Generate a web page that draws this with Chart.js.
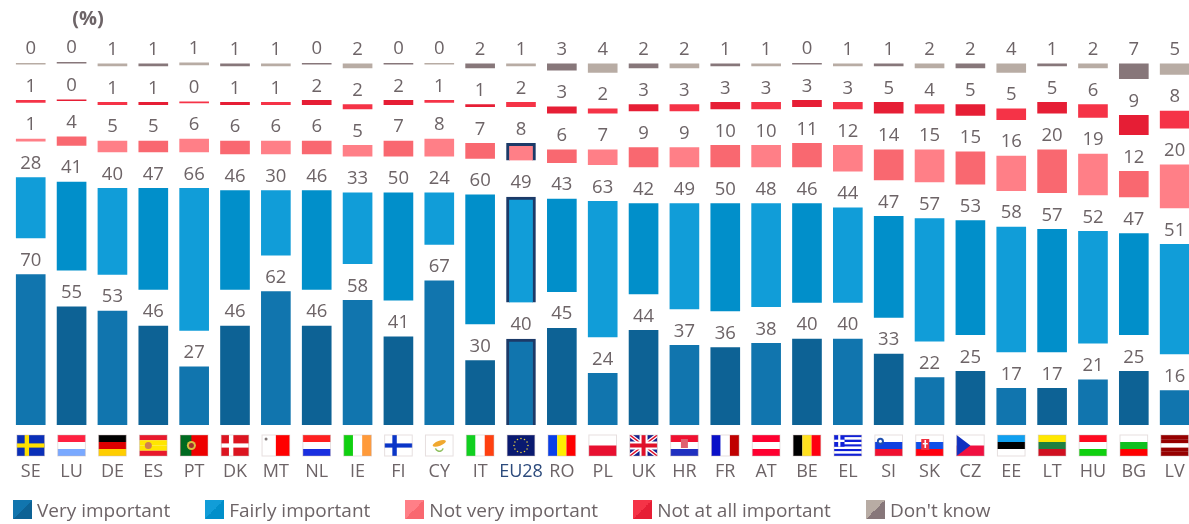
<!DOCTYPE html>
<html>
<head>
<meta charset="utf-8">
<title>Importance (%)</title>
<script src="https://cdn.jsdelivr.net/npm/chart.js@4"></script>
<style>
    html, body { margin: 0; padding: 0; background: #fff; overflow: hidden; width: 1189px; height: 524px; }
    #wrap { position: absolute; left: 0; top: 0; width: 1200px; height: 524px; }
    #legend { position: absolute; left: 13px; top: 500px; display: flex; font: 19px "Open Sans", sans-serif; color: #6d6467; white-space: nowrap; }
    .item { display: flex; align-items: center; height: 19px; margin-right: 35px; }
    .swatch { width: 19px; height: 19px; margin-right: 5px; }
</style>
</head>
<body>
<div id="wrap"><canvas id="chart" width="1200" height="524"></canvas></div>
<div id="legend"></div>
<script>
var countries = ['SE', 'LU', 'DE', 'ES', 'PT', 'DK', 'MT', 'NL', 'IE', 'FI', 'CY', 'IT', 'EU28', 'RO', 'PL', 'UK', 'HR', 'FR', 'AT', 'BE', 'EL', 'SI', 'SK', 'CZ', 'EE', 'LT', 'HU', 'BG', 'LV'];
var veryImportant = [70, 55, 53, 46, 27, 46, 62, 46, 58, 41, 67, 30, 40, 45, 24, 44, 37, 36, 38, 40, 40, 33, 22, 25, 17, 17, 21, 25, 16];
var fairlyImportant = [28, 41, 40, 47, 66, 46, 30, 46, 33, 50, 24, 60, 49, 43, 63, 42, 49, 50, 48, 46, 44, 47, 57, 53, 58, 57, 52, 47, 51];
var notVeryImportant = [1, 4, 5, 5, 6, 6, 6, 6, 5, 7, 8, 7, 8, 6, 7, 9, 9, 10, 10, 11, 12, 14, 15, 15, 16, 20, 19, 12, 20];
var notAtAllImportant = [1, 0, 1, 1, 0, 1, 1, 2, 2, 2, 1, 1, 2, 3, 2, 3, 3, 3, 3, 3, 3, 5, 4, 5, 5, 5, 6, 9, 8];
var dontKnow = [0, 0, 1, 1, 1, 1, 1, 0, 2, 0, 0, 2, 1, 3, 4, 2, 2, 1, 1, 0, 1, 1, 2, 2, 4, 1, 2, 7, 5];

var seriesNames = ['Very important', 'Fairly important', 'Not very important', 'Not at all important', "Don't know"];
var seriesValues = [veryImportant, fairlyImportant, notVeryImportant, notAtAllImportant, dontKnow];
var lightColors = ['#1175ae', '#119dd8', '#ff7f87', '#f53347', '#b8aca4'];
var darkColors = ['#0d6295', '#018fca', '#f96870', '#e61e35', '#87777a'];

var euIndex = countries.indexOf('EU28');
var euBorder = '#1c3a68';
var textColor = '#6d6467';
var fontName = '"Open Sans", sans-serif';
var segmentGap = 17; // empty room left between segments for the labels, in axis units

// stacked segments with an invisible spacer between each of them
var datasets = [];
seriesNames.forEach(function (name, s) {
    datasets.push({
        label: name,
        data: seriesValues[s],
        minBarLength: 1,
        backgroundColor: function (c) { return c.dataIndex % 2 ? darkColors[s] : lightColors[s]; },
        borderColor: euBorder,
        borderWidth: function (c) { return c.dataIndex === euIndex && s < 3 ? 3 : 0; }
    });
    if (s < seriesNames.length - 1) {
        datasets.push({
            label: 'spacer',
            spacer: true,
            data: countries.map(function () { return segmentGap; }),
            backgroundColor: 'transparent',
            borderWidth: 0
        });
    }
});

function hStripes(ctx, f, colors) {
    var h = f.h / colors.length;
    colors.forEach(function (col, i) {
        ctx.fillStyle = col;
        ctx.fillRect(f.x, f.y + i * h, f.w, h);
    });
}

function vStripes(ctx, f, colors) {
    var w = f.w / colors.length;
    colors.forEach(function (col, i) {
        ctx.fillStyle = col;
        ctx.fillRect(f.x + i * w, f.y, w, f.h);
    });
}

function nordicCross(ctx, f, bg, cross) {
    ctx.fillStyle = bg;
    ctx.fillRect(f.x, f.y, f.w, f.h);
    ctx.fillStyle = cross;
    ctx.fillRect(f.x + f.w * 0.28, f.y, f.w * 0.16, f.h);
    ctx.fillRect(f.x, f.y + f.h * 0.4, f.w, f.h * 0.2);
}

function dot(ctx, x, y, r, col) {
    ctx.fillStyle = col;
    ctx.beginPath();
    ctx.arc(x, y, r, 0, Math.PI * 2);
    ctx.fill();
}

var flags = {
    SE: function (ctx, f) { nordicCross(ctx, f, '#0a2fb8', '#ffe000'); },
    LU: function (ctx, f) { hStripes(ctx, f, ['#ff2040', '#ffffff', '#7aa9ff']); },
    DE: function (ctx, f) { hStripes(ctx, f, ['#000000', '#dd0000', '#ffce00']); },
    ES: function (ctx, f) {
        hStripes(ctx, f, ['#e8192c', '#ffe600', '#ffe600', '#e8192c']);
        dot(ctx, f.x + f.w * 0.32, f.y + f.h / 2, 3.5, '#d08050');
    },
    PT: function (ctx, f) {
        ctx.fillStyle = '#ee0000';
        ctx.fillRect(f.x, f.y, f.w, f.h);
        ctx.fillStyle = '#006a20';
        ctx.fillRect(f.x, f.y, f.w * 0.4, f.h);
        dot(ctx, f.x + f.w * 0.4, f.y + f.h / 2, 4.5, '#d8c040');
        dot(ctx, f.x + f.w * 0.4, f.y + f.h / 2, 2.5, '#a03030');
    },
    DK: function (ctx, f) { nordicCross(ctx, f, '#dc1420', '#ffffff'); },
    MT: function (ctx, f) {
        vStripes(ctx, f, ['#ffffff', '#ff0000']);
        dot(ctx, f.x + 4, f.y + 4, 1.5, '#807878');
    },
    NL: function (ctx, f) { hStripes(ctx, f, ['#ff2020', '#ffffff', '#1a2fe0']); },
    IE: function (ctx, f) { vStripes(ctx, f, ['#10d010', '#ffffff', '#ff9a3a']); },
    FI: function (ctx, f) { nordicCross(ctx, f, '#ffffff', '#0a35c8'); },
    CY: function (ctx, f) {
        ctx.fillStyle = '#ffffff';
        ctx.fillRect(f.x, f.y, f.w, f.h);
        ctx.fillStyle = '#f0a830';
        ctx.beginPath();
        ctx.ellipse(f.x + f.w * 0.5, f.y + f.h * 0.4, 7, 2.5, -0.35, 0, Math.PI * 2);
        ctx.fill();
        ctx.strokeStyle = '#90c060';
        ctx.lineWidth = 1.5;
        ctx.beginPath();
        ctx.arc(f.x + f.w * 0.5, f.y + f.h * 0.58, 4, 0.3, Math.PI - 0.3);
        ctx.stroke();
    },
    IT: function (ctx, f) { vStripes(ctx, f, ['#10d020', '#ffffff', '#ff4010']); },
    EU28: function (ctx, f) {
        ctx.fillStyle = '#0a1a70';
        ctx.fillRect(f.x, f.y, f.w, f.h);
        for (var i = 0; i < 12; i++) {
            var a = i * Math.PI / 6;
            dot(ctx, f.x + f.w / 2 + Math.cos(a) * 7, f.y + f.h / 2 + Math.sin(a) * 7, 0.8, '#e8d040');
        }
    },
    RO: function (ctx, f) { vStripes(ctx, f, ['#0a40e8', '#ffee00', '#ff0000']); },
    PL: function (ctx, f) { hStripes(ctx, f, ['#ffffff', '#e81030']); },
    UK: function (ctx, f) {
        ctx.save();
        ctx.beginPath();
        ctx.rect(f.x, f.y, f.w, f.h);
        ctx.clip();
        ctx.fillStyle = '#14208c';
        ctx.fillRect(f.x, f.y, f.w, f.h);
        ctx.lineWidth = 4;
        ctx.strokeStyle = '#ffffff';
        ctx.beginPath();
        ctx.moveTo(f.x, f.y);
        ctx.lineTo(f.x + f.w, f.y + f.h);
        ctx.moveTo(f.x + f.w, f.y);
        ctx.lineTo(f.x, f.y + f.h);
        ctx.stroke();
        ctx.lineWidth = 1.5;
        ctx.strokeStyle = '#e0102a';
        ctx.stroke();
        ctx.fillStyle = '#ffffff';
        ctx.fillRect(f.x + f.w / 2 - 4, f.y, 8, f.h);
        ctx.fillRect(f.x, f.y + f.h / 2 - 4, f.w, 8);
        ctx.fillStyle = '#e0102a';
        ctx.fillRect(f.x + f.w / 2 - 2, f.y, 4, f.h);
        ctx.fillRect(f.x, f.y + f.h / 2 - 2, f.w, 4);
        ctx.restore();
    },
    HR: function (ctx, f) {
        hStripes(ctx, f, ['#f01030', '#ffffff', '#2030c0']);
        ctx.fillStyle = '#e06070';
        ctx.fillRect(f.x + f.w / 2 - 3.5, f.y + 4, 7, 9);
    },
    FR: function (ctx, f) { vStripes(ctx, f, ['#0a10c8', '#ffffff', '#c00000']); },
    AT: function (ctx, f) { hStripes(ctx, f, ['#ff0030', '#ffffff', '#ff0030']); },
    BE: function (ctx, f) { vStripes(ctx, f, ['#000000', '#ffe020', '#ff0010']); },
    EL: function (ctx, f) {
        var colors = [];
        for (var i = 0; i < 9; i++) colors.push(i % 2 ? '#ffffff' : '#1020d8');
        hStripes(ctx, f, colors);
        ctx.fillStyle = '#1020d8';
        ctx.fillRect(f.x, f.y, f.w * 0.38, f.h * 5 / 9);
        ctx.fillStyle = '#ffffff';
        ctx.fillRect(f.x + f.w * 0.15, f.y, f.w * 0.08, f.h * 5 / 9);
        ctx.fillRect(f.x, f.y + f.h * 2 / 9, f.w * 0.38, f.h / 9);
    },
    SI: function (ctx, f) {
        hStripes(ctx, f, ['#ffffff', '#1040e0', '#f01030']);
        dot(ctx, f.x + f.w * 0.2, f.y + f.h * 0.3, 3.5, '#2050b0');
        dot(ctx, f.x + f.w * 0.2, f.y + f.h * 0.3, 1.5, '#ffffff');
    },
    SK: function (ctx, f) {
        hStripes(ctx, f, ['#ffffff', '#1050e8', '#ff0010']);
        ctx.fillStyle = '#f03040';
        ctx.fillRect(f.x + f.w * 0.2, f.y + 4, 8, 11);
        ctx.fillStyle = '#ffffff';
        ctx.fillRect(f.x + f.w * 0.2 + 3.2, f.y + 5, 1.6, 8);
        ctx.fillRect(f.x + f.w * 0.2 + 1.5, f.y + 8, 5, 1.4);
    },
    CZ: function (ctx, f) {
        hStripes(ctx, f, ['#ffffff', '#f01040']);
        ctx.fillStyle = '#1030c0';
        ctx.beginPath();
        ctx.moveTo(f.x, f.y);
        ctx.lineTo(f.x + f.w * 0.5, f.y + f.h / 2);
        ctx.lineTo(f.x, f.y + f.h);
        ctx.closePath();
        ctx.fill();
    },
    EE: function (ctx, f) { hStripes(ctx, f, ['#10a0f0', '#000000', '#ffffff']); },
    LT: function (ctx, f) { hStripes(ctx, f, ['#ffe800', '#208040', '#d01020']); },
    HU: function (ctx, f) { hStripes(ctx, f, ['#ff0a20', '#ffffff', '#10d010']); },
    BG: function (ctx, f) { hStripes(ctx, f, ['#ffffff', '#10c020', '#ff0000']); },
    LV: function (ctx, f) { hStripes(ctx, f, ['#960000', '#960000', '#ffffff', '#960000', '#960000']); }
};

var flagsPlugin = {
    id: 'flags',
    afterDraw: function (chart) {
        var ctx = chart.ctx;
        var xScale = chart.scales.x;
        countries.forEach(function (code, i) {
            var f = { x: xScale.getPixelForValue(i) - 13.8, y: 435, w: 27.6, h: 21 };
            ctx.save();
            flags[code](ctx, f);
            ctx.strokeStyle = 'rgba(200,185,185,0.45)';
            ctx.lineWidth = 1;
            ctx.strokeRect(f.x, f.y, f.w, f.h);
            ctx.restore();
        });
    }
};

// number above each segment and the (%) note
var valueLabels = {
    id: 'valueLabels',
    afterDatasetsDraw: function (chart) {
        var ctx = chart.ctx;
        ctx.save();
        ctx.fillStyle = textColor;
        ctx.textAlign = 'center';
        ctx.textBaseline = 'middle';
        ctx.font = '18.5px ' + fontName;
        chart.data.datasets.forEach(function (ds, d) {
            if (ds.spacer) return;
            chart.getDatasetMeta(d).data.forEach(function (bar, i) {
                ctx.fillText(ds.data[i], bar.x, bar.y - 14);
            });
        });
        ctx.font = 'bold 20px ' + fontName;
        ctx.fillText('(%)', 88, 19);
        ctx.restore();
    }
};

new Chart(document.getElementById('chart').getContext('2d'), {
    type: 'bar',
    data: { labels: countries, datasets: datasets },
    plugins: [valueLabels, flagsPlugin],
    options: {
        responsive: false,
        animation: false,
        layout: { padding: { left: 10.3, right: 4.9, top: 25, bottom: 0 } },
        datasets: { bar: { barThickness: 29 } },
        plugins: { legend: { display: false }, title: { display: false }, tooltip: { enabled: false } },
        scales: {
            x: {
                stacked: true,
                afterFit: function (scale) { scale.height = 99; },
                grid: { display: false, drawTicks: true, tickLength: 36 },
                border: { display: false },
                ticks: {
                    autoSkip: false,
                    maxRotation: 0,
                    padding: 0,
                    font: { family: fontName, size: 18 },
                    color: function (c) { return c.index === euIndex ? '#2c4a7c' : textColor; }
                }
            },
            y: { stacked: true, display: false, min: 0, max: 186 }
        }
    }
});

var legend = document.getElementById('legend');
seriesNames.forEach(function (name, s) {
    var item = document.createElement('div');
    item.className = 'item';
    var swatch = document.createElement('div');
    swatch.className = 'swatch';
    swatch.style.background = 'linear-gradient(135deg, ' + lightColors[s] + ' 50%, ' + darkColors[s] + ' 50%)';
    item.appendChild(swatch);
    item.appendChild(document.createTextNode(name));
    legend.appendChild(item);
});
</script>
</body>
</html>
